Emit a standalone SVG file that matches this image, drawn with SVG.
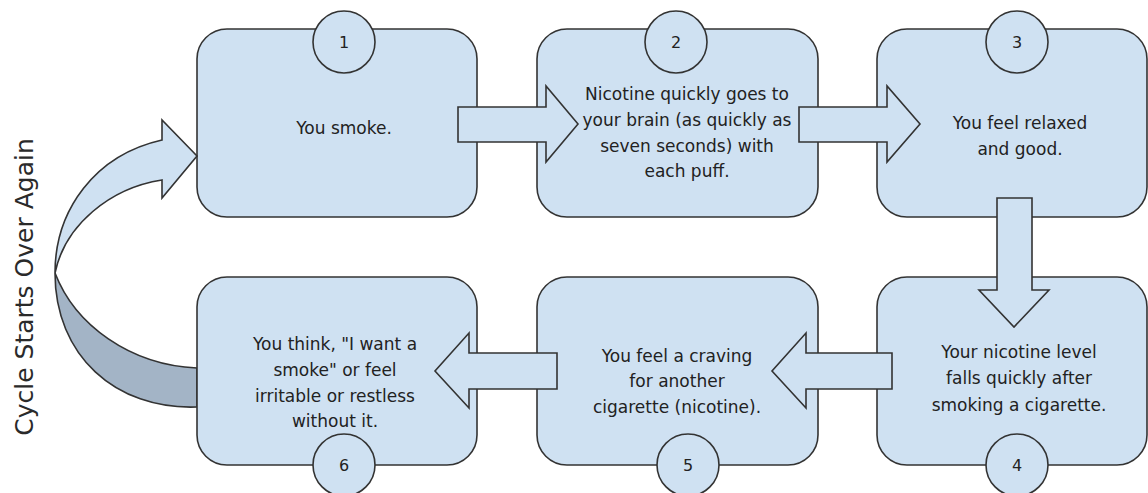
<svg xmlns="http://www.w3.org/2000/svg" width="1148" height="493" viewBox="0 0 1148 493">
<style>
.box{fill:#cfe1f2;stroke:#333;stroke-width:1.6}
.num{fill:#cfe1f2;stroke:#333;stroke-width:1.6}
.arr{fill:#cfe1f2;stroke:#333;stroke-width:1.6;stroke-linejoin:miter}
.back{fill:#a3b4c6;stroke:#333;stroke-width:1.6}
.t{font-family:"DejaVu Sans","Noto Sans",sans-serif;font-size:17px;fill:#222;text-anchor:middle}
.n{font-family:"DejaVu Sans","Noto Sans",sans-serif;font-size:16px;fill:#222;text-anchor:middle}
.side{font-family:"DejaVu Sans","Noto Sans",sans-serif;font-size:25px;fill:#2a2a2a;text-anchor:middle}
</style>
<rect width="1148" height="493" fill="#fff"/>
<g id="connectors-back">
<path class="back" d="M55,273 C75,325 130,365 197,368 L197,407 C115,410 55,355 55,273 Z"/>
</g>
<g id="node1">
<rect class="box" x="197" y="29" width="280" height="188" rx="30"/>
<circle class="num" cx="344" cy="42" r="31"/>
<text class="n" x="344" y="48">1</text>
<text class="t" x="344" y="134">You smoke.</text>
</g>
<g id="node2">
<rect class="box" x="537" y="29" width="281" height="188" rx="30"/>
<circle class="num" cx="676" cy="42" r="31"/>
<text class="n" x="676" y="48">2</text>
<text class="t" x="687" y="100">Nicotine quickly goes to</text>
<text class="t" x="687" y="126">your brain (as quickly as</text>
<text class="t" x="687" y="152">seven seconds) with</text>
<text class="t" x="687" y="177">each puff.</text>
</g>
<g id="node3">
<rect class="box" x="877" y="29" width="270" height="188" rx="30"/>
<circle class="num" cx="1017" cy="42" r="31"/>
<text class="n" x="1017" y="48">3</text>
<text class="t" x="1020" y="129">You feel relaxed</text>
<text class="t" x="1020" y="155">and good.</text>
</g>
<g id="node4">
<rect class="box" x="877" y="277" width="270" height="188" rx="30"/>
<text class="t" x="1019" y="358">Your nicotine level</text>
<text class="t" x="1019" y="384">falls quickly after</text>
<text class="t" x="1019" y="411">smoking a cigarette.</text>
<circle class="num" cx="1017" cy="465" r="31"/>
<text class="n" x="1017" y="471">4</text>
</g>
<g id="node5">
<rect class="box" x="537" y="277" width="281" height="188" rx="30"/>
<text class="t" x="677" y="362">You feel a craving</text>
<text class="t" x="677" y="387">for another</text>
<text class="t" x="677" y="413">cigarette (nicotine).</text>
<circle class="num" cx="688" cy="465" r="31"/>
<text class="n" x="688" y="471">5</text>
</g>
<g id="node6">
<rect class="box" x="197" y="277" width="280" height="188" rx="30"/>
<text class="t" x="335" y="350">You think, "I want a</text>
<text class="t" x="335" y="376">smoke" or feel</text>
<text class="t" x="335" y="402">irritable or restless</text>
<text class="t" x="335" y="427">without it.</text>
<circle class="num" cx="344" cy="465" r="31"/>
<text class="n" x="344" y="471">6</text>
</g>
<g id="connectors">
<path class="arr" d="M458,107 L546,107 L546,86 L578,124 L546,162 L546,142 L458,142 Z"/>
<path class="arr" d="M799,107 L887,107 L887,86 L920,124 L887,162 L887,142 L799,142 Z"/>
<path class="arr" d="M997,198 L1032,198 L1032,290 L1049,290 L1014,327 L979,290 L997,290 Z"/>
<path class="arr" d="M892,353 L806,353 L806,333 L772,371 L806,408 L806,389 L892,389 Z"/>
<path class="arr" d="M557,353 L469,353 L469,333 L435,371 L469,408 L469,389 L557,389 Z"/>
<path class="arr" d="M55,273 C55,210 95,155 162,140 L162,120 L197,156 L162,198 L162,180 C110,188 65,225 55,273 Z"/>
</g>
<text class="side" transform="translate(33,287) rotate(-90)">Cycle Starts Over Again</text>
</svg>
